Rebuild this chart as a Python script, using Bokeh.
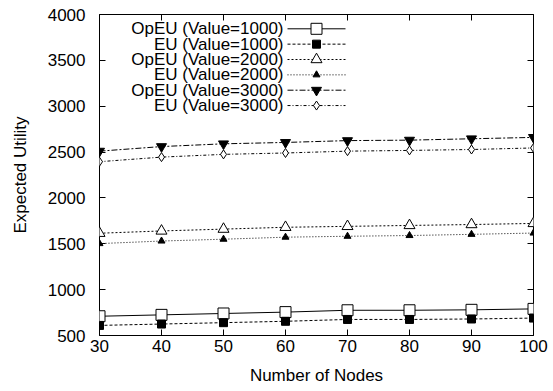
from bokeh.plotting import figure
from bokeh.models import FixedTicker, LinearAxis, Range1d
from bokeh.core.properties import value
from bokeh.embed import file_html
from bokeh.resources import INLINE

# ---- data ----
nodes = [30, 40, 50, 60, 70, 80, 90, 100]
opeu_1000 = [710, 725, 740, 755, 775, 775, 780, 790]
eu_1000 = [610, 625, 640, 655, 675, 675, 680, 690]
opeu_2000 = [1615, 1640, 1660, 1680, 1690, 1700, 1710, 1722]
eu_2000 = [1502, 1530, 1550, 1572, 1582, 1590, 1603, 1617]
opeu_3000 = [2510, 2560, 2590, 2605, 2625, 2630, 2645, 2660]
eu_3000 = [2395, 2445, 2475, 2490, 2510, 2518, 2528, 2545]
labels = ["OpEU (Value=1000)", "EU (Value=1000)", "OpEU (Value=2000)",
          "EU (Value=2000)", "OpEU (Value=3000)", "EU (Value=3000)"]
x_ticks = [30, 40, 50, 60, 70, 80, 90, 100]
y_ticks = [500, 1000, 1500, 2000, 2500, 3000, 3500, 4000]

FONT = "Liberation Sans"
FS = "17px"

W, H = 553, 391
L, R, T, B = 99, 20, 14, 56
XMIN, XMAX, YMIN, YMAX = 30, 100, 500, 4000

p = figure(width=W, height=H, output_backend="svg", toolbar_location=None,
           x_range=Range1d(XMIN, XMAX), y_range=Range1d(YMIN, YMAX),
           min_border_left=L, min_border_right=R, min_border_top=T, min_border_bottom=B,
           x_axis_label="Number of Nodes", y_axis_label="Expected Utility")
p.grid.visible = False
p.outline_line_color = "black"
p.outline_line_width = 1
p.background_fill_color = "white"
p.border_fill_color = "white"

for ax in (p.xaxis[0], p.yaxis[0]):
    ax.major_tick_in = 6
    ax.major_tick_out = 0
    ax.minor_tick_line_color = None
    ax.axis_line_color = None
    ax.major_label_text_font = FONT
    ax.major_label_text_font_size = FS
    ax.major_label_text_color = "black"
    ax.axis_label_text_font = FONT
    ax.axis_label_text_font_size = FS
    ax.axis_label_text_font_style = "normal"
    ax.axis_label_text_color = "black"
p.xaxis[0].ticker = FixedTicker(ticks=x_ticks)
p.yaxis[0].ticker = FixedTicker(ticks=y_ticks)
p.xaxis[0].major_label_standoff = 4
p.xaxis[0].axis_label_standoff = 11
p.yaxis[0].major_label_standoff = 14
p.yaxis[0].axis_label_standoff = 15

# mirrored ticks (no labels)
top = LinearAxis(ticker=FixedTicker(ticks=x_ticks), major_tick_in=6, major_tick_out=0,
                 minor_tick_line_color=None, axis_line_color=None,
                 major_label_text_font_size="1px", major_label_text_color=None,
                 major_label_standoff=0)
right = LinearAxis(ticker=FixedTicker(ticks=y_ticks), major_tick_in=6, major_tick_out=0,
                   minor_tick_line_color=None, axis_line_color=None,
                   major_label_text_font_size="1px", major_label_text_color=None,
                   major_label_standoff=0)
p.add_layout(top, "above")
p.add_layout(right, "right")

styles = [
    dict(ys=opeu_1000, dash="solid", lc="black", marker="square", size=11, fill="white"),
    dict(ys=eu_1000, dash="3 2", lc="black", marker="square", size=8, fill="black"),
    dict(ys=opeu_2000, dash="2 2", lc="black", marker="triangle", size=11, fill="white"),
    dict(ys=eu_2000, dash="1 2", lc="black", marker="triangle", size=7, fill="black"),
    dict(ys=opeu_3000, dash="6 2 2 2", lc="black", marker="inverted_triangle", size=10, fill="black"),
    dict(ys=eu_3000, dash="3 2 1 2", lc="black", marker="diamond", size=9, fill="white"),
]

fw = W - L - R
fh = H - T - B
def px2x(px):
    return XMIN + (px - L) / fw * (XMAX - XMIN)
def py2y(py):
    return YMAX - (py - T) / fh * (YMAX - YMIN)

# legend layout (pixels)
leg_text_right = 283
leg_line_x0, leg_line_x1, leg_mark_x = 287, 345, 316
leg_row0, leg_step = 28.3, 15.35

for i, (st, lab) in enumerate(zip(styles, labels)):
    p.line(nodes, st["ys"], line_color=st["lc"], line_width=1, line_dash=st["dash"])
    p.scatter(nodes, st["ys"], marker=st["marker"], size=st["size"],
              fill_color=st["fill"], line_color="black", line_width=1)
    py = leg_row0 + i * leg_step
    yy = py2y(py)
    p.text(x=[px2x(leg_text_right)], y=[yy], text=[lab], text_align="right",
           text_baseline="middle", text_font=value(FONT), text_font_size=FS,
           text_color="black")
    p.line([px2x(leg_line_x0), px2x(leg_line_x1)], [yy, yy], line_color=st["lc"],
           line_width=1, line_dash=st["dash"])
    p.scatter([px2x(leg_mark_x)], [yy], marker=st["marker"], size=st["size"],
              fill_color=st["fill"], line_color="black", line_width=1)

open("out.html", "w").write(file_html(p, INLINE))
